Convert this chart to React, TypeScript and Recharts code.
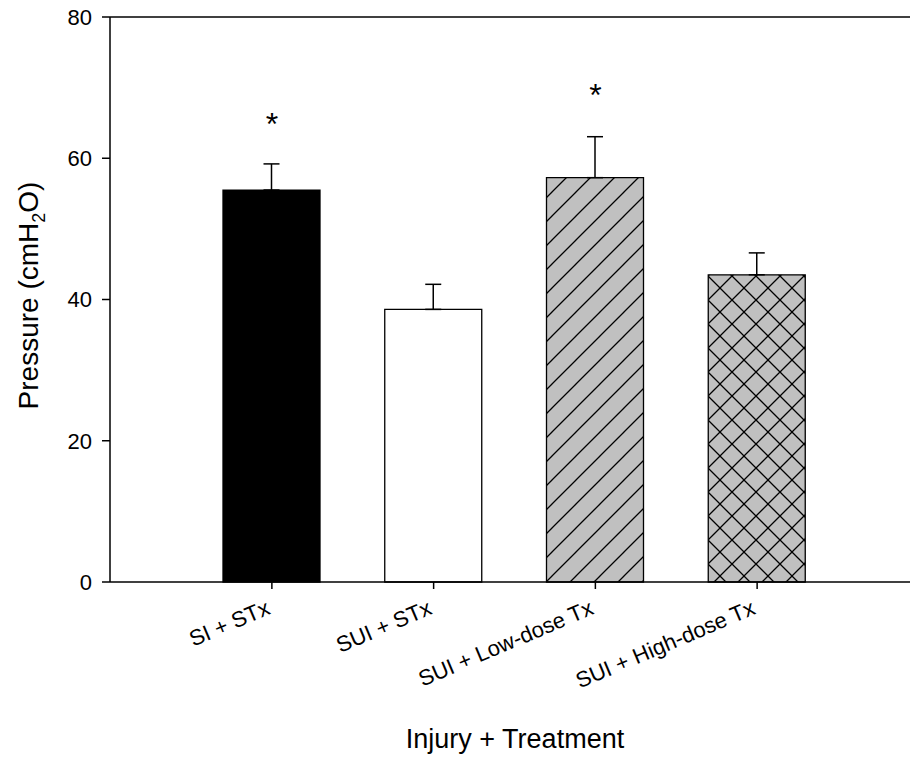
import React from "react";
import { ComposedChart, Bar, Cell, ErrorBar, Scatter, XAxis, YAxis, ReferenceLine, Label } from "recharts";

const groups = ["SI + STx", "SUI + STx", "SUI + Low-dose Tx", "SUI + High-dose Tx"];
const means = [55.5, 38.6, 57.25, 43.5];
const sem = [3.7, 3.55, 5.8, 3.1];
// asterisk positions (significance marks)
const stars = [65.8, null, 70.0, null];
const fills = ["#000000", "#ffffff", "url(#diagHatch)", "url(#crossHatch)"];
const yTicks = [0, 20, 40, 60, 80];

const data = groups.map((g, i) => ({
  group: g,
  mean: means[i],
  err: [0, sem[i]],
  star: stars[i],
}));

const FONT = "'Liberation Sans', Arial, sans-serif";

function CategoryTick(props: any) {
  const { x, y, payload } = props;
  const ax = x - 0.5;
  const ay = y + 22.5;
  return (
    <text
      x={ax}
      y={ay}
      textAnchor="end"
      fontSize={22}
      fontFamily={FONT}
      fill="#000"
      transform={`rotate(-23, ${ax}, ${ay})`}
    >
      {payload.value}
    </text>
  );
}

function Star(props: any) {
  const { cx, cy } = props;
  if (cy == null || isNaN(cy)) return null;
  return (
    <text x={cx} y={cy + 18} textAnchor="middle" fontSize={32} fontFamily={FONT} fill="#000">
      *
    </text>
  );
}

export default function App() {
  return (
    <div style={{ position: "absolute", left: 0, top: 0, background: "#fff" }}>
      <ComposedChart width={910} height={758} data={data} margin={{ top: 17, right: 0, bottom: 0, left: 0 }}>
        <defs>
          <pattern id="diagHatch" patternUnits="userSpaceOnUse" width={24} height={24}>
            <rect width={24} height={24} fill="#c0c0c0" />
            <path d="M0,24 L24,0 M-6,6 L6,-6 M18,30 L30,18" stroke="#000" strokeWidth={1.3} />
          </pattern>
          <pattern id="crossHatch" patternUnits="userSpaceOnUse" width={24} height={24}>
            <rect width={24} height={24} fill="#c0c0c0" />
            <path
              d="M0,24 L24,0 M-6,6 L6,-6 M18,30 L30,18 M0,0 L24,24 M-6,18 L6,30 M18,-6 L30,6"
              stroke="#000"
              strokeWidth={1.3}
            />
          </pattern>
        </defs>
        <XAxis
          dataKey="group"
          height={176}
          padding={{ left: 81, right: 72 }}
          tickSize={7}
          tickMargin={2}
          axisLine={{ stroke: "#000", strokeWidth: 1.5 }}
          tickLine={{ stroke: "#000", strokeWidth: 1.5 }}
          tick={<CategoryTick />}
          interval={0}
        >
          <Label
            content={(p: any) => {
              const vb = p.viewBox;
              return (
                <text x={vb.x + vb.width / 2 + 5} y={vb.y + 166} textAnchor="middle" fontSize={27} fontFamily={FONT} fill="#000">
                  Injury + Treatment
                </text>
              );
            }}
          />
        </XAxis>
        <YAxis
          domain={[0, 80]}
          ticks={yTicks}
          width={110}
          tickSize={8}
          tickMargin={10}
          axisLine={{ stroke: "#000", strokeWidth: 1.5 }}
          tickLine={{ stroke: "#000", strokeWidth: 1.5 }}
          tick={{ fill: "#000", fontSize: 22, fontFamily: FONT }}
        >
          <Label
            content={(p: any) => {
              const vb = p.viewBox;
              const cx = 38;
              const cy = vb.y + vb.height / 2 - 4;
              return (
                <text
                  x={cx}
                  y={cy}
                  textAnchor="middle"
                  fontSize={28}
                  fontFamily={FONT}
                  fill="#000"
                  transform={`rotate(-90, ${cx}, ${cy})`}
                >
                  Pressure (cmH
                  <tspan fontSize={18} dy={7}>2</tspan>
                  <tspan dy={-7}>O)</tspan>
                </text>
              );
            }}
          />
        </YAxis>
        <ReferenceLine y={80} stroke="#000" strokeWidth={1.5} />
        <Bar dataKey="mean" barSize={97} stroke="#000" strokeWidth={1.3} isAnimationActive={false}>
          {data.map((d, i) => (
            <Cell key={d.group} fill={fills[i]} />
          ))}
          <ErrorBar dataKey="err" direction="y" width={8} stroke="#000" strokeWidth={1.5} />
        </Bar>
        <Scatter dataKey="star" shape={<Star />} isAnimationActive={false} />
      </ComposedChart>
    </div>
  );
}
